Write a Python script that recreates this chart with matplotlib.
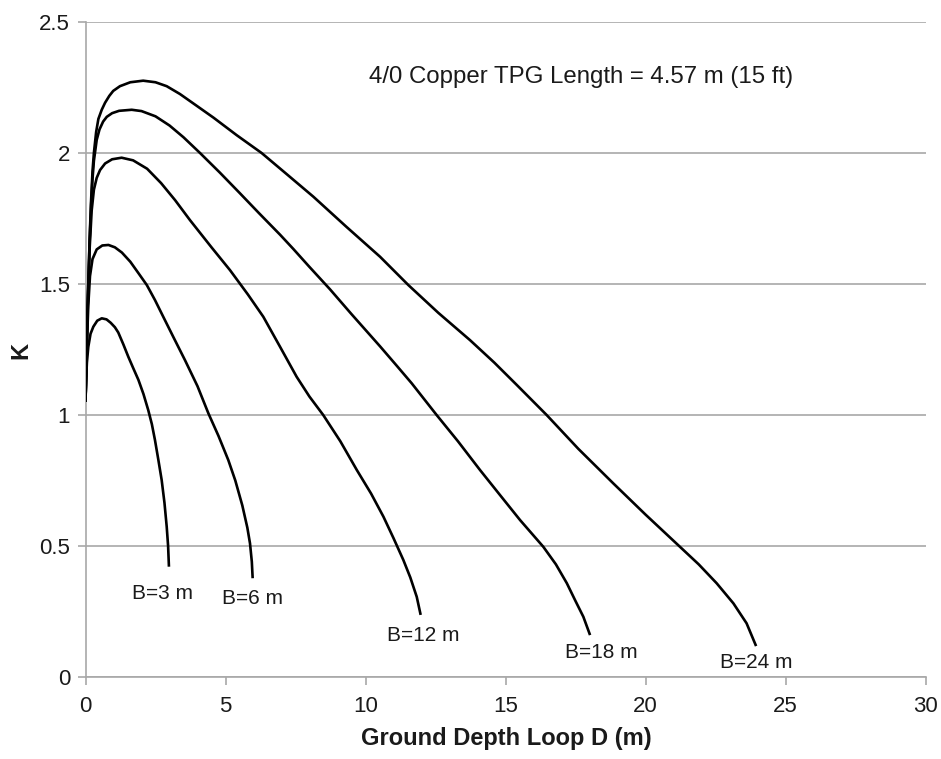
import matplotlib
matplotlib.use("Agg")
import matplotlib.pyplot as plt

plt.rcParams['font.family'] = ['Liberation Sans', 'DejaVu Sans']

# ground depth D (m) and factor K, one pair per loop width B
d_b3 = [0, 0.02, 0.05, 0.1, 0.18, 0.28, 0.42, 0.58, 0.75, 0.9, 1.05, 1.17, 1.35, 1.53, 1.7, 1.89,
        2.07, 2.24, 2.37, 2.48, 2.6, 2.72, 2.82, 2.9, 2.95, 2.98]
k_b3 = [1.05, 1.13, 1.2, 1.26, 1.31, 1.337, 1.36, 1.369, 1.365, 1.352, 1.335, 1.315, 1.27, 1.222, 1.18, 1.134,
        1.08, 1.019, 0.965, 0.905, 0.83, 0.752, 0.665, 0.574, 0.5, 0.421]

d_b6 = [0, 0.03, 0.06, 0.1, 0.16, 0.25, 0.4, 0.6, 0.82, 1.05, 1.3, 1.6, 1.9, 2.19, 2.48, 2.8, 3.15,
        3.55, 4.0, 4.39, 4.75, 5.1, 5.35, 5.6, 5.78, 5.875, 5.94, 5.97]
k_b6 = [1.05, 1.18, 1.3, 1.42, 1.53, 1.595, 1.632, 1.647, 1.649, 1.64, 1.62, 1.585, 1.54, 1.496, 1.439, 1.37, 1.295,
        1.21, 1.11, 1.006, 0.92, 0.828, 0.75, 0.655, 0.57, 0.51, 0.44, 0.377]

d_b12 = [0, 0.03, 0.06, 0.1, 0.15, 0.22, 0.3, 0.4, 0.52, 0.7, 0.95, 1.29, 1.7, 2.2, 2.7, 3.2, 3.73,
         4.5, 5.16, 5.8, 6.35, 6.95, 7.54, 8.0, 8.49, 9.1, 9.69, 10.2, 10.64, 11.0, 11.35, 11.6, 11.83, 11.97]
k_b12 = [1.05, 1.2, 1.34, 1.48, 1.64, 1.78, 1.86, 1.905, 1.935, 1.96, 1.976, 1.982, 1.972, 1.94, 1.885, 1.82, 1.744,
         1.64, 1.553, 1.46, 1.375, 1.26, 1.146, 1.07, 1.0, 0.9, 0.79, 0.7, 0.612, 0.53, 0.447, 0.38, 0.306, 0.237]

d_b18 = [0, 0.03, 0.06, 0.1, 0.15, 0.2, 0.25, 0.3, 0.4, 0.5, 0.63, 0.76, 0.95, 1.2, 1.65, 2.0, 2.5,
         3.0, 3.5, 4.09, 4.8, 5.5, 6.2, 6.95, 7.42, 8.0, 8.73, 9.5, 10.52, 11.1, 11.65, 12.54, 13.3,
         14.09, 14.8, 15.52, 16.35, 16.8, 17.19, 17.5, 17.78, 18.02]
k_b18 = [1.05, 1.2, 1.35, 1.5, 1.67, 1.8, 1.9, 1.97, 2.05, 2.09, 2.12, 2.138, 2.152, 2.161, 2.165, 2.16, 2.14,
         2.105, 2.06, 2.0, 1.925, 1.848, 1.77, 1.688, 1.634, 1.565, 1.48, 1.385, 1.262, 1.19, 1.121, 1.0, 0.9,
         0.79, 0.695, 0.599, 0.497, 0.43, 0.358, 0.29, 0.23, 0.16]

d_b24 = [0, 0.03, 0.06, 0.1, 0.15, 0.2, 0.25, 0.3, 0.38, 0.46, 0.58, 0.7, 0.85, 0.99, 1.23, 1.6, 2.06,
         2.5, 2.9, 3.375, 4.0, 4.57, 5.4, 6.29, 7.2, 8.14, 9.3, 10.52, 11.53, 12.6, 13.73, 14.6, 15.4,
         16.47, 17.6, 18.85, 20.0, 21.23, 21.9, 22.54, 23.14, 23.61, 23.95]
k_b24 = [1.05, 1.2, 1.35, 1.5, 1.68, 1.82, 1.93, 2.0, 2.08, 2.13, 2.165, 2.192, 2.218, 2.237, 2.255, 2.27, 2.276,
         2.27, 2.255, 2.225, 2.178, 2.135, 2.068, 2.0, 1.918, 1.833, 1.72, 1.604, 1.496, 1.39, 1.286, 1.2, 1.115,
         1.0, 0.871, 0.739, 0.62, 0.497, 0.43, 0.358, 0.281, 0.205, 0.118]

curve_names = ["B=3 m", "B=6 m", "B=12 m", "B=18 m", "B=24 m"]
curve_d = [d_b3, d_b6, d_b12, d_b18, d_b24]
curve_k = [k_b3, k_b6, k_b12, k_b18, k_b24]

# where each curve label sits (data coords, text centre)
label_x = [2.75, 5.98, 12.08, 18.41, 23.95]
label_y = [0.32, 0.298, 0.158, 0.094, 0.055]

x_ticks = [0, 5, 10, 15, 20, 25, 30]
y_ticks = [0, 0.5, 1, 1.5, 2, 2.5]
y_tick_labels = ["0", "0.5", "1", "1.5", "2", "2.5"]

grid_gray = "#a8a8a8"
text_col = "#1a1a1a"

fig = plt.figure(figsize=(9.41, 7.59), dpi=100)
ax = fig.add_axes([85.5 / 941, 82 / 759, 840 / 941, 655 / 759])

for d, k in zip(curve_d, curve_k):
    ax.plot(d, k, color="black", lw=1.9, solid_joinstyle="round", solid_capstyle="butt", zorder=3)

for name, lx, ly in zip(curve_names, label_x, label_y):
    ax.text(lx, ly, name, ha="center", va="center", fontsize=15, color=text_col)

ax.text(17.69, 2.291, "4/0 Copper TPG Length = 4.57 m (15 ft)", ha="center", va="center",
        fontsize=17.3, color=text_col)

ax.set_xlim(0, 30)
ax.set_ylim(0, 2.5)
ax.set_xticks(x_ticks)
ax.set_yticks(y_ticks)
ax.set_yticklabels(y_tick_labels)

ax.yaxis.grid(True, color=grid_gray, lw=1.2)
ax.set_axisbelow(True)

for side in ["top", "right"]:
    ax.spines[side].set_visible(False)
for side in ["left", "bottom"]:
    ax.spines[side].set_color(grid_gray)
    ax.spines[side].set_linewidth(1.2)

ax.tick_params(axis="both", colors=grid_gray, length=6, width=1.2, labelsize=16, labelcolor=text_col)
ax.tick_params(axis="x", pad=8)
ax.tick_params(axis="y", pad=5)

ax.set_xlabel("Ground Depth Loop D (m)", fontsize=17, fontweight="bold", color=text_col, va="center")
ax.xaxis.set_label_coords(0.5014, -0.0935)
ax.set_ylabel("K", fontsize=17, fontweight="bold", color=text_col, va="center", ha="center")
ax.yaxis.set_label_coords(-0.0774, 0.499)

fig.savefig("out.png", dpi=100)
